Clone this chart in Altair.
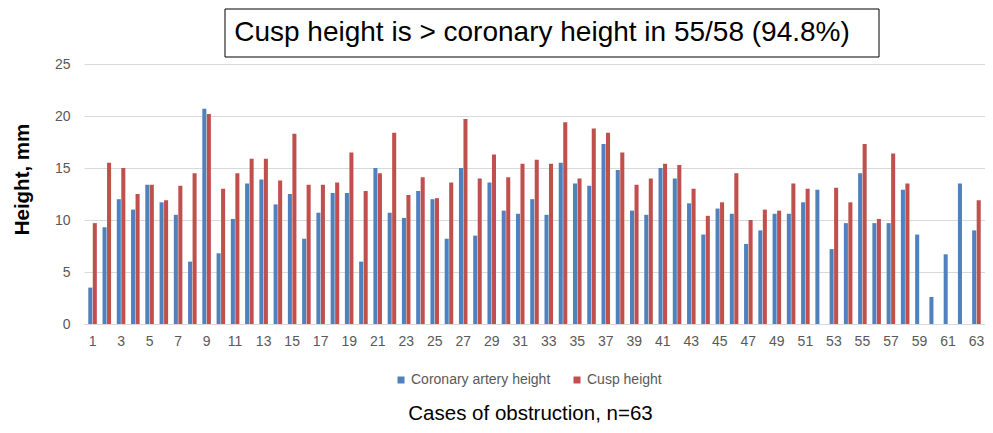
import altair as alt
import pandas as pd

cases = list(range(1, 64))
coronary = [3.5, 9.3, 12.0, 11.0, 13.4, 11.7, 10.5, 6.0, 20.7, 6.8,
            10.1, 13.5, 13.9, 11.5, 12.5, 8.2, 10.7, 12.6, 12.6, 6.0,
            15.0, 10.7, 10.2, 12.8, 12.0, 8.2, 15.0, 8.5, 13.6, 10.9,
            10.6, 12.0, 10.5, 15.5, 13.5, 13.3, 17.3, 14.8, 10.9, 10.5,
            15.0, 14.0, 11.6, 8.6, 11.1, 10.6, 7.7, 9.0, 10.6, 10.6,
            11.7, 12.9, 7.2, 9.7, 14.5, 9.7, 9.7, 12.9, 8.6, 2.6,
            6.7, 13.5, 9.0]
cusp = [9.7, 15.5, 15.0, 12.5, 13.4, 11.9, 13.3, 14.5, 20.2, 13.0,
        14.5, 15.9, 15.9, 13.8, 18.3, 13.4, 13.4, 13.6, 16.5, 12.8,
        14.5, 18.4, 12.4, 14.1, 12.1, 13.6, 19.7, 14.0, 16.3, 14.1,
        15.4, 15.8, 15.4, 19.4, 14.0, 18.8, 18.4, 16.5, 13.4, 14.0,
        15.4, 15.3, 13.0, 10.4, 11.7, 14.5, 10.0, 11.0, 10.9, 13.5,
        13.0, None, 13.1, 11.7, 17.3, 10.1, 16.4, 13.5, None, None,
        None, None, 11.9]
series_names = ["Coronary artery height", "Cusp height"]
series_colors = ["#4F81BD", "#C0504D"]
title_text = "Cusp height is > coronary height in 55/58 (94.8%)"

rows = []
for c, a, b in zip(cases, coronary, cusp):
    if a is not None:
        rows.append({"case": c, "series": series_names[0], "value": a})
    if b is not None:
        rows.append({"case": c, "series": series_names[1], "value": b})
df = pd.DataFrame(rows)

FONT = "Liberation Sans"

bars = alt.Chart(df).mark_bar().encode(
    x=alt.X("case:O",
            scale=alt.Scale(domain=cases, paddingInner=0.4, paddingOuter=0.3),
            axis=alt.Axis(title="Cases of obstruction, n=63", labelAngle=0,
                          labelExpr="datum.value % 2 == 1 ? datum.label : ''",
                          labelOverlap=False, ticks=False, domain=True,
                          domainColor="#d9d9d9", labelColor="#595959",
                          labelFontSize=14, labelPadding=10,
                          titleFontSize=20.5, titleFontWeight="normal",
                          titleColor="#000000", titlePadding=55, labelFont=FONT,
                          titleFont=FONT, titleX=446)),
    xOffset=alt.XOffset("series:N", scale=alt.Scale(domain=series_names, paddingInner=0.1)),
    y=alt.Y("value:Q", scale=alt.Scale(domain=[0, 25]),
            axis=alt.Axis(title="Height, mm", values=[0, 5, 10, 15, 20, 25],
                          ticks=False, domain=False, gridColor="#d9d9d9",
                          labelColor="#595959", labelFontSize=14, labelPadding=14,
                          titleFontSize=20.5, titleFontWeight="bold",
                          titleColor="#000000", titleX=-62, titleY=115,
                          titleAlign="center", titleBaseline="middle",
                          labelFont=FONT, titleFont=FONT)),
    color=alt.Color("series:N",
                    scale=alt.Scale(domain=series_names, range=series_colors),
                    legend=alt.Legend(title=None, orient="none", direction="horizontal",
                                      legendX=310, legendY=309, symbolType="square",
                                      symbolSize=49, symbolStrokeWidth=0,
                                      labelFontSize=14, labelColor="#595959",
                                      labelFont=FONT, columnPadding=19,
                                      symbolOffset=0, labelOffset=3)),
)

one = pd.DataFrame({"t": [title_text]})
box = alt.Chart(one).mark_rect(fill="white", stroke="#000000", strokeWidth=1).encode(
    x=alt.value(141), x2=alt.value(795), y=alt.value(-55), y2=alt.value(-7)
)
title = alt.Chart(one).mark_text(fontSize=28, font=FONT, color="#000000",
                                 align="center", baseline="middle").encode(
    x=alt.value(458), y=alt.value(-31), text="t:N"
)

chart = alt.layer(bars, box, title).properties(
    width=901, height=260,
    padding={"left": 76, "top": 56, "right": 0, "bottom": 109},
    autosize=alt.AutoSizeParams(type="none"),
).configure_view(stroke=None)

chart.save("out.html", embed_options={"renderer": "svg", "actions": False})
